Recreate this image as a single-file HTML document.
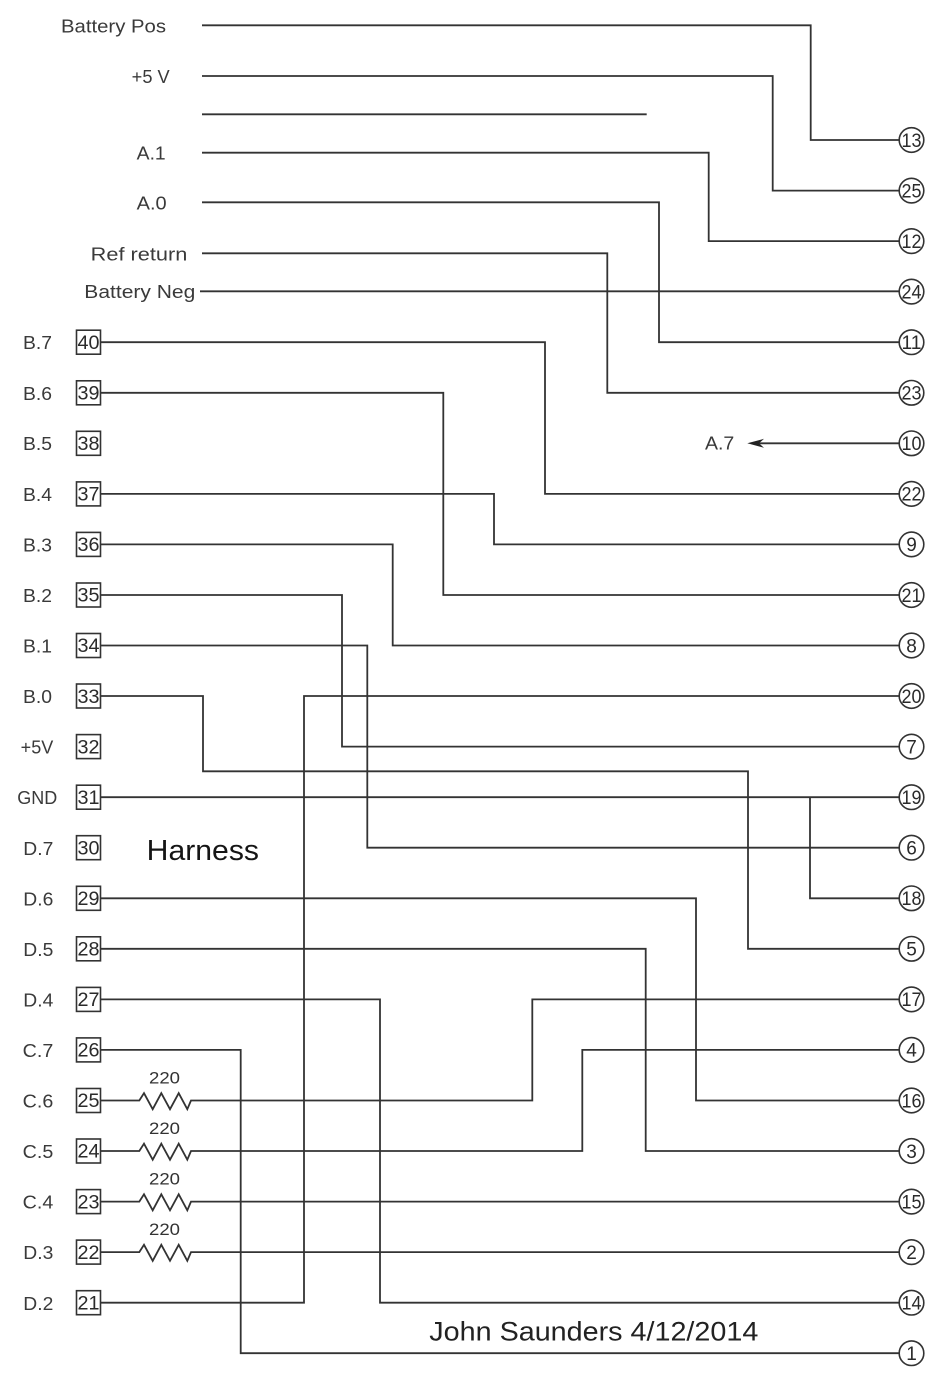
<!DOCTYPE html>
<html>
<head>
<meta charset="utf-8">
<style>
  html,body{margin:0;padding:0;background:#fff;}
  svg{display:block;}
  .w{fill:none;stroke:#333;stroke-width:1.8;}
  .lbl{font-family:"Liberation Sans","DejaVu Sans",sans-serif;font-size:18px;fill:#3a3a3a;}
  .num{font-family:"Liberation Sans","DejaVu Sans",sans-serif;font-size:19px;fill:#2a2a2a;}
  .pin{font-family:"Liberation Sans","DejaVu Sans",sans-serif;font-size:19px;fill:#2a2a2a;}
  .res{font-family:"Liberation Sans","DejaVu Sans",sans-serif;font-size:17px;fill:#333;}
</style>
</head>
<body>
<svg width="936" height="1380" viewBox="0 0 936 1380" xmlns="http://www.w3.org/2000/svg">
<rect width="936" height="1380" fill="#fff"/>

<!-- top labels -->
<text class="lbl" x="61" y="32.5" textLength="105" lengthAdjust="spacingAndGlyphs">Battery Pos</text>
<text class="lbl" x="131.7" y="83" textLength="38" lengthAdjust="spacingAndGlyphs">+5 V</text>
<text class="lbl" x="136.7" y="159.5" textLength="29" lengthAdjust="spacingAndGlyphs">A.1</text>
<text class="lbl" x="136.7" y="209.5" textLength="30" lengthAdjust="spacingAndGlyphs">A.0</text>
<text class="lbl" x="90.7" y="260.5" textLength="96.6" lengthAdjust="spacingAndGlyphs">Ref return</text>
<text class="lbl" x="84.3" y="298" textLength="111" lengthAdjust="spacingAndGlyphs">Battery Neg</text>

<!-- top wires -->
<polyline class="w" points="202,25.3 810.7,25.3 810.7,140 899,140"/>
<polyline class="w" points="202,76 772.7,76 772.7,190.6 899,190.6"/>
<polyline class="w" points="202,114.3 646.7,114.3"/>
<polyline class="w" points="202,152.7 708.7,152.7 708.7,241.1 899,241.1"/>
<polyline class="w" points="202,202.3 659,202.3 659,342.2 899,342.2"/>
<polyline class="w" points="202,253.3 607.3,253.3 607.3,392.8 899,392.8"/>
<polyline class="w" points="200,291.3 899,291.3"/>

<!-- left pin labels -->
<g class="lbl">
<text x="23" y="349" textLength="29" lengthAdjust="spacingAndGlyphs">B.7</text>
<text x="23" y="400" textLength="29" lengthAdjust="spacingAndGlyphs">B.6</text>
<text x="23" y="450" textLength="29" lengthAdjust="spacingAndGlyphs">B.5</text>
<text x="23" y="501" textLength="29" lengthAdjust="spacingAndGlyphs">B.4</text>
<text x="23" y="551.5" textLength="29" lengthAdjust="spacingAndGlyphs">B.3</text>
<text x="23" y="602" textLength="29" lengthAdjust="spacingAndGlyphs">B.2</text>
<text x="23" y="652.5" textLength="29" lengthAdjust="spacingAndGlyphs">B.1</text>
<text x="23" y="703" textLength="29" lengthAdjust="spacingAndGlyphs">B.0</text>
<text x="20.7" y="753.5" textLength="32.6" lengthAdjust="spacingAndGlyphs">+5V</text>
<text x="17.3" y="804" textLength="40" lengthAdjust="spacingAndGlyphs">GND</text>
<text x="23.3" y="855" textLength="30" lengthAdjust="spacingAndGlyphs">D.7</text>
<text x="23.3" y="905.5" textLength="30" lengthAdjust="spacingAndGlyphs">D.6</text>
<text x="23.3" y="956" textLength="30" lengthAdjust="spacingAndGlyphs">D.5</text>
<text x="23.3" y="1006.5" textLength="30" lengthAdjust="spacingAndGlyphs">D.4</text>
<text x="22.7" y="1057" textLength="30.6" lengthAdjust="spacingAndGlyphs">C.7</text>
<text x="22.7" y="1107.5" textLength="30.6" lengthAdjust="spacingAndGlyphs">C.6</text>
<text x="22.7" y="1158" textLength="30.6" lengthAdjust="spacingAndGlyphs">C.5</text>
<text x="22.7" y="1208.5" textLength="30.6" lengthAdjust="spacingAndGlyphs">C.4</text>
<text x="23.3" y="1259" textLength="30" lengthAdjust="spacingAndGlyphs">D.3</text>
<text x="23.3" y="1310" textLength="30" lengthAdjust="spacingAndGlyphs">D.2</text>
</g>

<!-- pin boxes -->
<g fill="#fff" stroke="#333" stroke-width="1.6">
<rect x="76.5" y="330.2" width="24" height="24"/>
<rect x="76.5" y="380.8" width="24" height="24"/>
<rect x="76.5" y="431.3" width="24" height="24"/>
<rect x="76.5" y="481.9" width="24" height="24"/>
<rect x="76.5" y="532.4" width="24" height="24"/>
<rect x="76.5" y="583" width="24" height="24"/>
<rect x="76.5" y="633.5" width="24" height="24"/>
<rect x="76.5" y="684" width="24" height="24"/>
<rect x="76.5" y="734.6" width="24" height="24"/>
<rect x="76.5" y="785.2" width="24" height="24"/>
<rect x="76.5" y="835.7" width="24" height="24"/>
<rect x="76.5" y="886.3" width="24" height="24"/>
<rect x="76.5" y="936.8" width="24" height="24"/>
<rect x="76.5" y="987.4" width="24" height="24"/>
<rect x="76.5" y="1037.9" width="24" height="24"/>
<rect x="76.5" y="1088.5" width="24" height="24"/>
<rect x="76.5" y="1139" width="24" height="24"/>
<rect x="76.5" y="1189.6" width="24" height="24"/>
<rect x="76.5" y="1240.1" width="24" height="24"/>
<rect x="76.5" y="1290.7" width="24" height="24"/>
</g>
<g class="pin">
<text x="77.5" y="349" textLength="22" lengthAdjust="spacingAndGlyphs">40</text>
<text x="77.5" y="399.5" textLength="22" lengthAdjust="spacingAndGlyphs">39</text>
<text x="77.5" y="450" textLength="22" lengthAdjust="spacingAndGlyphs">38</text>
<text x="77.5" y="500.6" textLength="22" lengthAdjust="spacingAndGlyphs">37</text>
<text x="77.5" y="551.1" textLength="22" lengthAdjust="spacingAndGlyphs">36</text>
<text x="77.5" y="601.7" textLength="22" lengthAdjust="spacingAndGlyphs">35</text>
<text x="77.5" y="652.2" textLength="22" lengthAdjust="spacingAndGlyphs">34</text>
<text x="77.5" y="702.8" textLength="22" lengthAdjust="spacingAndGlyphs">33</text>
<text x="77.5" y="753.3" textLength="22" lengthAdjust="spacingAndGlyphs">32</text>
<text x="77.5" y="803.9" textLength="22" lengthAdjust="spacingAndGlyphs">31</text>
<text x="77.5" y="854.4" textLength="22" lengthAdjust="spacingAndGlyphs">30</text>
<text x="77.5" y="905" textLength="22" lengthAdjust="spacingAndGlyphs">29</text>
<text x="77.5" y="955.5" textLength="22" lengthAdjust="spacingAndGlyphs">28</text>
<text x="77.5" y="1006.1" textLength="22" lengthAdjust="spacingAndGlyphs">27</text>
<text x="77.5" y="1056.6" textLength="22" lengthAdjust="spacingAndGlyphs">26</text>
<text x="77.5" y="1107.2" textLength="22" lengthAdjust="spacingAndGlyphs">25</text>
<text x="77.5" y="1157.7" textLength="22" lengthAdjust="spacingAndGlyphs">24</text>
<text x="77.5" y="1208.3" textLength="22" lengthAdjust="spacingAndGlyphs">23</text>
<text x="77.5" y="1258.8" textLength="22" lengthAdjust="spacingAndGlyphs">22</text>
<text x="77.5" y="1309.4" textLength="22" lengthAdjust="spacingAndGlyphs">21</text>
</g>

<!-- pin wires -->
<polyline class="w" points="100.5,342.2 545,342.2 545,493.9 899,493.9"/>
<polyline class="w" points="100.5,392.8 443.3,392.8 443.3,595 899,595"/>
<polyline class="w" points="100.5,493.9 494,493.9 494,544.4 899,544.4"/>
<polyline class="w" points="100.5,544.4 392.7,544.4 392.7,645.5 899,645.5"/>
<polyline class="w" points="100.5,595 342,595 342,746.6 899,746.6"/>
<polyline class="w" points="100.5,645.5 367.3,645.5 367.3,847.7 899,847.7"/>
<polyline class="w" points="100.5,696 203,696 203,771.3 748,771.3 748,948.8 899,948.8"/>
<polyline class="w" points="100.5,797.2 899,797.2"/>
<polyline class="w" points="810,797.2 810,898.3 899,898.3"/>
<polyline class="w" points="100.5,898.3 696,898.3 696,1100.5 899,1100.5"/>
<polyline class="w" points="100.5,948.8 645.7,948.8 645.7,1151 899,1151"/>
<polyline class="w" points="100.5,999.4 380,999.4 380,1302.7 899,1302.7"/>
<polyline class="w" points="100.5,1049.9 240.7,1049.9 240.7,1353.2 899,1353.2"/>
<polyline class="w" points="100.5,1302.7 304,1302.7 304,696 899,696"/>

<!-- resistor rows -->
<polyline class="w" points="100.5,1100.5 139.3,1100.5 144,1093.2 152.7,1109.2 161.3,1093.2 170,1109.2 178.7,1093.2 187.3,1109.2 191,1100.5 532.3,1100.5 532.3,999.4 899,999.4"/>
<polyline class="w" points="100.5,1151 139.3,1151 144,1143.7 152.7,1159.7 161.3,1143.7 170,1159.7 178.7,1143.7 187.3,1159.7 191,1151 582.3,1151 582.3,1049.9 899,1049.9"/>
<polyline class="w" points="100.5,1201.6 139.3,1201.6 144,1194.3 152.7,1210.3 161.3,1194.3 170,1210.3 178.7,1194.3 187.3,1210.3 191,1201.6 899,1201.6"/>
<polyline class="w" points="100.5,1252.1 139.3,1252.1 144,1244.8 152.7,1260.8 161.3,1244.8 170,1260.8 178.7,1244.8 187.3,1260.8 191,1252.1 899,1252.1"/>
<g class="res">
<text x="149" y="1083.5" textLength="31" lengthAdjust="spacingAndGlyphs">220</text>
<text x="149" y="1134" textLength="31" lengthAdjust="spacingAndGlyphs">220</text>
<text x="149" y="1184.6" textLength="31" lengthAdjust="spacingAndGlyphs">220</text>
<text x="149" y="1235.1" textLength="31" lengthAdjust="spacingAndGlyphs">220</text>
</g>

<!-- A.7 arrow -->
<line class="w" x1="756" y1="443.3" x2="899" y2="443.3"/>
<polygon points="747.3,443.3 764,438.8 759,443.3 764,447.8" fill="#222"/>
<text class="lbl" x="705" y="449.5" textLength="29.3" lengthAdjust="spacingAndGlyphs">A.7</text>

<!-- circles -->
<g fill="#fff" stroke="#333" stroke-width="1.6">
<circle cx="911.5" cy="140" r="12.3"/>
<circle cx="911.5" cy="190.6" r="12.3"/>
<circle cx="911.5" cy="241.1" r="12.3"/>
<circle cx="911.5" cy="291.6" r="12.3"/>
<circle cx="911.5" cy="342.2" r="12.3"/>
<circle cx="911.5" cy="392.8" r="12.3"/>
<circle cx="911.5" cy="443.3" r="12.3"/>
<circle cx="911.5" cy="493.9" r="12.3"/>
<circle cx="911.5" cy="544.4" r="12.3"/>
<circle cx="911.5" cy="595" r="12.3"/>
<circle cx="911.5" cy="645.5" r="12.3"/>
<circle cx="911.5" cy="696" r="12.3"/>
<circle cx="911.5" cy="746.6" r="12.3"/>
<circle cx="911.5" cy="797.2" r="12.3"/>
<circle cx="911.5" cy="847.7" r="12.3"/>
<circle cx="911.5" cy="898.3" r="12.3"/>
<circle cx="911.5" cy="948.8" r="12.3"/>
<circle cx="911.5" cy="999.4" r="12.3"/>
<circle cx="911.5" cy="1049.9" r="12.3"/>
<circle cx="911.5" cy="1100.5" r="12.3"/>
<circle cx="911.5" cy="1151" r="12.3"/>
<circle cx="911.5" cy="1201.6" r="12.3"/>
<circle cx="911.5" cy="1252.1" r="12.3"/>
<circle cx="911.5" cy="1302.7" r="12.3"/>
<circle cx="911.5" cy="1353.2" r="12.3"/>
</g>
<g class="num" text-anchor="middle">
<text x="911.5" y="146.8" textLength="20" lengthAdjust="spacingAndGlyphs">13</text>
<text x="911.5" y="197.4" textLength="20" lengthAdjust="spacingAndGlyphs">25</text>
<text x="911.5" y="247.9" textLength="20" lengthAdjust="spacingAndGlyphs">12</text>
<text x="911.5" y="298.4" textLength="20" lengthAdjust="spacingAndGlyphs">24</text>
<text x="911.5" y="349" textLength="20" lengthAdjust="spacingAndGlyphs">11</text>
<text x="911.5" y="399.6" textLength="20" lengthAdjust="spacingAndGlyphs">23</text>
<text x="911.5" y="450.1" textLength="20" lengthAdjust="spacingAndGlyphs">10</text>
<text x="911.5" y="500.7" textLength="20" lengthAdjust="spacingAndGlyphs">22</text>
<text x="911.5" y="551.2">9</text>
<text x="911.5" y="601.8" textLength="20" lengthAdjust="spacingAndGlyphs">21</text>
<text x="911.5" y="652.3">8</text>
<text x="911.5" y="702.8" textLength="20" lengthAdjust="spacingAndGlyphs">20</text>
<text x="911.5" y="753.4">7</text>
<text x="911.5" y="804" textLength="20" lengthAdjust="spacingAndGlyphs">19</text>
<text x="911.5" y="854.5">6</text>
<text x="911.5" y="905.1" textLength="20" lengthAdjust="spacingAndGlyphs">18</text>
<text x="911.5" y="955.6">5</text>
<text x="911.5" y="1006.2" textLength="20" lengthAdjust="spacingAndGlyphs">17</text>
<text x="911.5" y="1056.7">4</text>
<text x="911.5" y="1107.3" textLength="20" lengthAdjust="spacingAndGlyphs">16</text>
<text x="911.5" y="1157.8">3</text>
<text x="911.5" y="1208.4" textLength="20" lengthAdjust="spacingAndGlyphs">15</text>
<text x="911.5" y="1258.9">2</text>
<text x="911.5" y="1309.5" textLength="20" lengthAdjust="spacingAndGlyphs">14</text>
<text x="911.5" y="1360">1</text>
</g>

<!-- titles -->
<text x="146.7" y="860" font-family="Liberation Sans, DejaVu Sans, sans-serif" font-size="29" fill="#151515" textLength="112.3" lengthAdjust="spacingAndGlyphs">Harness</text>
<text x="429.3" y="1340.5" font-family="Liberation Sans, DejaVu Sans, sans-serif" font-size="27" fill="#222" textLength="329" lengthAdjust="spacingAndGlyphs">John Saunders 4/12/2014</text>
</svg>
</body>
</html>
